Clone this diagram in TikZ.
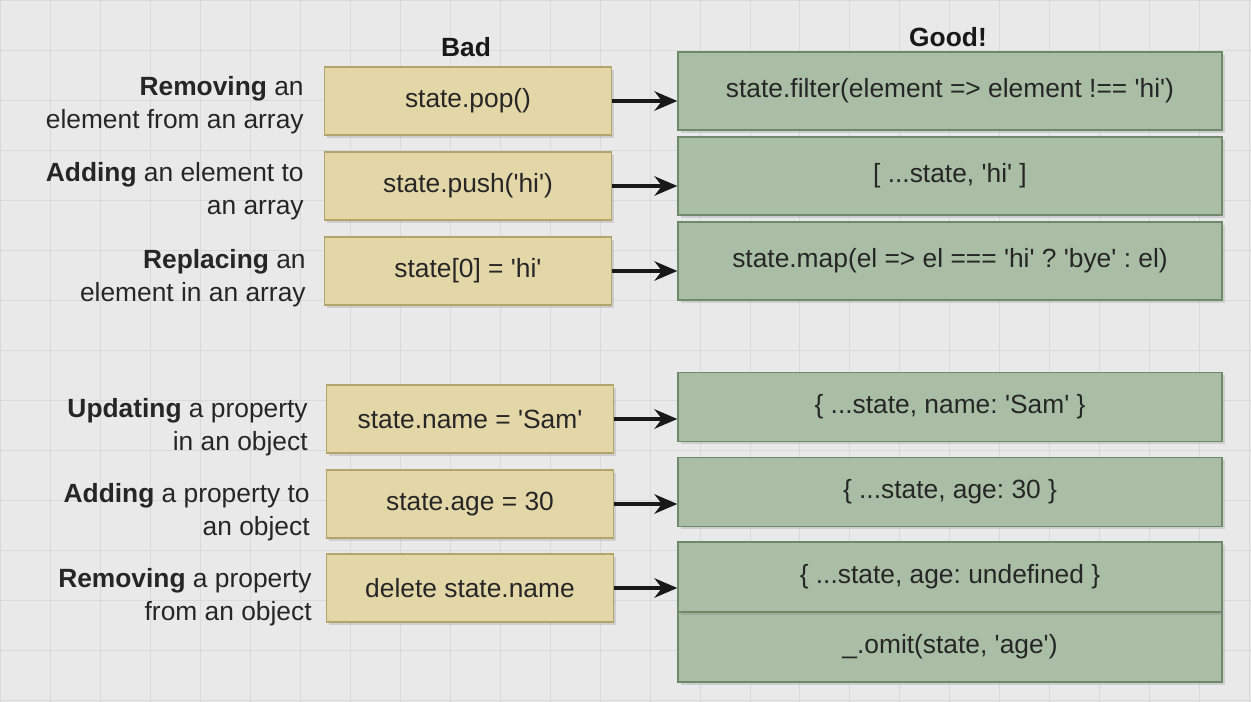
\documentclass[tikz,border=0pt]{standalone}
\usepackage{fontspec}
\setmainfont{Liberation Sans}
\usetikzlibrary{arrows.meta,shadows}
\definecolor{bg}{HTML}{E9E9E9}
\definecolor{gridc}{HTML}{DADADA}
\definecolor{badfill}{HTML}{E3D7A8}
\definecolor{baddraw}{HTML}{B3A46A}
\definecolor{goodfill}{HTML}{A9BEA5}
\definecolor{gooddraw}{HTML}{6E8A6A}
\newcommand\sq{\textquotesingle}
\tikzset{
  txt/.style={font=\frenchspacing\fontsize{15}{19}\selectfont, text=black!85},
  badbox/.style={txt, rectangle, draw=baddraw, fill=badfill, line width=0.8pt,
     minimum width=5.74cm, minimum height=1.36cm, inner sep=0pt,
     drop shadow={shadow xshift=1.5pt, shadow yshift=-1.5pt, opacity=0.25}},
  goodbox/.style={txt, rectangle, draw=gooddraw, fill=goodfill, line width=0.8pt,
     minimum width=10.88cm, inner sep=0pt,
     drop shadow={shadow xshift=1.5pt, shadow yshift=-1.5pt, opacity=0.25}},
  lbl/.style={txt, anchor=east, align=right, inner sep=0pt},
  hdr/.style={font=\bfseries\fontsize{15}{19}\selectfont, text=black!90},
  arr/.style={-{Stealth[length=13pt,width=11pt]}, line width=2.2pt, draw=black!90},
}
\begin{document}
\begin{tikzpicture}[x=0.02cm,y=-0.02cm]
\fill[bg] (0,0) rectangle (1251,702);
\useasboundingbox (0,0) rectangle (1251,702);
\draw[gridc, line width=0.4pt] (0,0) grid[step=1cm] (1251,702);

% headers
\node[hdr] (hbad) at (466,47) {Bad};
\node[hdr] (hgood) at (948,37) {Good!};

% bad boxes
\node[badbox] (b1) at (468,101) {state.pop()};
\node[badbox] (b2) at (468,186) {state.push(\sq hi\sq)};
\node[badbox] (b3) at (468,271) {state[0] = \sq hi\sq};
\node[badbox] (b4) at (470,419) {state.name = \sq Sam\sq};
\node[badbox] (b5) at (470,504) {state.age = 30};
\node[badbox] (b6) at (470,588) {delete state.name};

% good boxes
\node[goodbox, minimum height=1.56cm] (g1) at (950,91) {state.filter(element => element !== \sq hi\sq)};
\node[goodbox, minimum height=1.56cm] (g2) at (950,176) {[ ...state, \sq hi\sq\ ]};
\node[goodbox, minimum height=1.56cm] (g3) at (950,261) {state.map(el => el === \sq hi\sq\ ? \sq bye\sq\ : el)};
\node[goodbox, minimum height=1.38cm] (g4) at (950,407) {\{ ...state, name: \sq Sam\sq\ \}};
\node[goodbox, minimum height=1.38cm] (g5) at (950,492) {\{ ...state, age: 30 \}};
\node[goodbox, minimum height=1.4cm] (g7) at (950,647) {\_.omit(state, \sq age\sq)};
\node[goodbox, minimum height=1.4cm] (g6) at (950,577) {\{ ...state, age: undefined \}};

% labels
\node[lbl] (l1) at (304,105) {\textbf{Removing} an\\element from an array};
\node[lbl] (l2) at (304,191) {\textbf{Adding} an element to\\an array};
\node[lbl] (l3) at (306,278) {\textbf{Replacing} an\\element in an array};
\node[lbl] (l4) at (308,427) {\textbf{Updating} a property\\in an object};
\node[lbl] (l5) at (310,512) {\textbf{Adding} a property to\\an object};
\node[lbl] (l6) at (312,597) {\textbf{Removing} a property\\from an object};

% arrows
\foreach \b/\g in {b1/g1,b2/g2,b3/g3,b4/g4,b5/g5,b6/g6}
  \draw[arr] (\b.east) -- (\b.east -| \g.west);
\end{tikzpicture}
\end{document}
